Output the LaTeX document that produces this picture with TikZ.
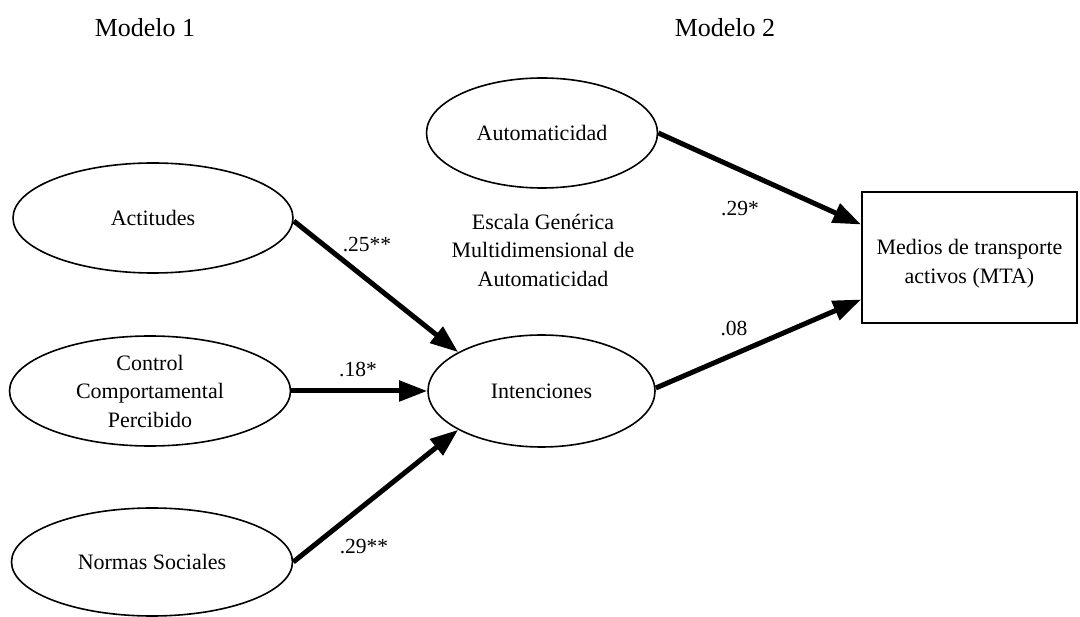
\documentclass[tikz,border=0pt]{standalone}
\usepackage{fontspec}
\setmainfont{Liberation Serif}
\usetikzlibrary{shapes.geometric,arrows.meta}
\begin{document}
\begin{tikzpicture}[x=1pt,y=-1pt,
  txt/.style={align=center,inner sep=0pt,font=\fontsize{22}{28.5}\selectfont},
  lat/.style={ellipse,draw,line width=1.6pt,inner sep=0pt},
  obs/.style={rectangle,draw,line width=1.8pt,inner sep=0pt,minimum width=215pt,minimum height=131pt},
  pth/.style={line width=5pt,-{Triangle[length=28pt,width=20pt]}},
  coef/.style={inner sep=0pt,font=\fontsize{21.5}{25}\selectfont},
  ttl/.style={inner sep=0pt,font=\fontsize{26}{30}\selectfont}]
\useasboundingbox (0,0) rectangle (1080,617);

\node[ttl] (m1) at (145,28) {Modelo 1};
\node[ttl] (m2) at (725,28) {Modelo 2};

\node[lat,minimum width=280pt,minimum height=110pt,label={[txt]center:Actitudes}] (act) at (153,218) {};
\node[lat,minimum width=281pt,minimum height=110pt,label={[txt]center:Control\\Comportamental\\Percibido}] (ctrl) at (150,391) {};
\node[lat,minimum width=281pt,minimum height=108pt,label={[txt]center:Normas Sociales}] (norm) at (152,562) {};
\node[lat,minimum width=227pt,minimum height=112pt,label={[txt]center:Intenciones}] (int) at (541.5,391) {};
\node[lat,minimum width=231pt,minimum height=110pt,label={[txt]center:Automaticidad}] (auto) at (542,133) {};
\node[obs,label={[txt,yshift=-6pt]center:Medios de transporte\\activos (MTA)}] (mta) at (969.5,257.5) {};

\node[txt] (esc) at (543,250) {Escala Genérica\\Multidimensional de\\Automaticidad};

\draw[pth] ([yshift=-3pt]act.east) -- (int.155);
\draw[pth] (ctrl.east) -- (int.west);
\draw[pth] (norm.east) -- (int.205);
\draw[pth] (auto.east) -- ([yshift=33pt]mta.west);
\draw[pth] ([yshift=3pt]int.east) -- ([yshift=-42pt]mta.west);

\node[coef] (c1) at (367,245) {.25**};
\node[coef] (c2) at (358,370) {.18*};
\node[coef] (c3) at (364,547) {.29**};
\node[coef] (c4) at (740,209) {.29*};
\node[coef] (c5) at (734,329) {.08};
\end{tikzpicture}
\end{document}
